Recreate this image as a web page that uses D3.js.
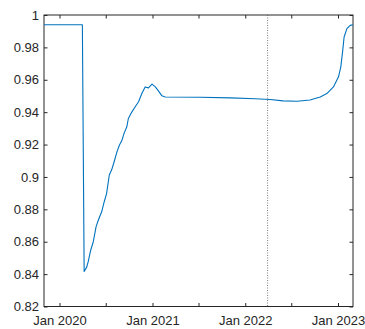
<!DOCTYPE html>
<html>
<head>
<meta charset="utf-8">
<script src="https://cdn.jsdelivr.net/npm/d3@7/dist/d3.min.js"></script>
<style>
  html, body { margin: 0; padding: 0; background: #ffffff; }
  svg { display: block; }
  text { font-family: "Liberation Sans", Arial, Helvetica, sans-serif; }
</style>
</head>
<body>
<svg id="chart" width="365" height="329"></svg>
<script>
// ---- data ----
const dates = [
  "2019-11-01", "2020-03-31", "2020-04-07", "2020-04-17", "2020-04-23", "2020-05-03",
  "2020-05-13", "2020-05-24", "2020-06-02", "2020-06-15", "2020-06-25", "2020-07-04",
  "2020-07-15", "2020-07-25", "2020-08-03", "2020-08-14", "2020-08-24", "2020-09-02",
  "2020-09-11", "2020-09-22", "2020-09-28", "2020-10-12", "2020-10-25", "2020-11-07",
  "2020-11-20", "2020-12-03", "2020-12-16", "2020-12-30", "2021-01-12", "2021-01-25",
  "2021-02-07", "2021-02-20", "2021-07-08", "2021-11-03", "2022-02-09", "2022-04-09",
  "2022-05-30", "2022-07-24", "2022-09-13", "2022-10-23", "2022-11-18", "2022-12-14",
  "2023-01-03", "2023-01-12", "2023-01-19", "2023-01-25", "2023-02-05", "2023-02-18",
  "2023-03-01"
];
const values = [
  0.994, 0.994, 0.8416, 0.8443, 0.8477, 0.8549,
  0.8600, 0.8693, 0.8734, 0.8785, 0.8847, 0.8895,
  0.9012, 0.9047, 0.9094, 0.9155, 0.9197, 0.9223,
  0.9269, 0.9310, 0.9361, 0.9402, 0.9433, 0.9464,
  0.9515, 0.9556, 0.9550, 0.9573, 0.9556, 0.9530,
  0.9501, 0.9494, 0.9492, 0.9488, 0.9483, 0.9478,
  0.9470, 0.9467, 0.9475, 0.9494, 0.9515, 0.9556,
  0.9618, 0.9680, 0.9772, 0.9864, 0.9916, 0.9936,
  0.9940
];
const markerDate = "2022-03-30";
const xDomain = ["2019-11-01", "2023-03-01"];
const yDomain = [0.82, 1];
const xTickDates = ["2020-01-01", "2020-07-01", "2021-01-01", "2021-07-01", "2022-01-01", "2022-07-01", "2023-01-01"];
const xTickLabels = ["Jan 2020", "", "Jan 2021", "", "Jan 2022", "", "Jan 2023"];
const yTickValues = [0.82, 0.84, 0.86, 0.88, 0.9, 0.92, 0.94, 0.96, 0.98, 1];
const yTickLabels = ["0.82", "0.84", "0.86", "0.88", "0.9", "0.92", "0.94", "0.96", "0.98", "1"];

// ---- layout ----
const margin = { left: 44, top: 15, right: 12, bottom: 22.5 };
const W = 365, H = 329;
const innerW = W - margin.left - margin.right;
const innerH = H - margin.top - margin.bottom;
const parse = d3.utcParse("%Y-%m-%d");

const x = d3.scaleUtc().domain(xDomain.map(parse)).range([0, innerW]);
const y = d3.scaleLinear().domain(yDomain).range([innerH, 0]);

const svg = d3.select("#chart");
const g = svg.append("g").attr("transform", `translate(${margin.left},${margin.top})`);

const axisColor = "#262626";
const tickLen = 3.5;
const xt = xTickDates.map(parse);

function styleAxis(sel, showText) {
  sel.select(".domain").remove();
  sel.selectAll(".tick line").attr("stroke", axisColor).attr("stroke-width", 1);
  sel.selectAll(".tick text")
    .attr("fill", "#262626")
    .style("font-size", "13px");
  if (!showText) sel.selectAll(".tick text").remove();
}

// bottom axis
const xAxis = d3.axisBottom(x).tickValues(xt)
  .tickFormat((d, i) => xTickLabels[i])
  .tickSizeInner(-tickLen).tickSizeOuter(0).tickPadding(9);
g.append("g").attr("transform", `translate(0,${innerH})`).call(xAxis).call(s => styleAxis(s, true));

// top axis (ticks only)
g.append("g").call(d3.axisTop(x).tickValues(xt).tickSizeInner(-tickLen).tickSizeOuter(0))
  .call(s => styleAxis(s, false));

// left axis
const yAxis = d3.axisLeft(y).tickValues(yTickValues)
  .tickFormat((d, i) => yTickLabels[i])
  .tickSizeInner(-tickLen).tickSizeOuter(0).tickPadding(5);
g.append("g").call(yAxis).call(s => styleAxis(s, true));

// right axis (ticks only)
g.append("g").attr("transform", `translate(${innerW},0)`)
  .call(d3.axisRight(y).tickValues(yTickValues).tickSizeInner(-tickLen).tickSizeOuter(0))
  .call(s => styleAxis(s, false));

// box
g.append("rect")
  .attr("x", 0).attr("y", 0).attr("width", innerW).attr("height", innerH)
  .attr("fill", "none").attr("stroke", axisColor).attr("stroke-width", 1);

// vertical dotted marker
const mx = x(parse(markerDate));
g.append("line")
  .attr("x1", mx).attr("x2", mx).attr("y1", 0).attr("y2", innerH)
  .attr("stroke", "#555555").attr("stroke-width", 0.8)
  .attr("stroke-dasharray", "1,1.5");

// series line
const pts = dates.map((d, i) => [parse(d), values[i]]);
const line = d3.line().x(d => x(d[0])).y(d => y(d[1]));
g.append("path")
  .datum(pts)
  .attr("d", line)
  .attr("fill", "none")
  .attr("stroke", "#0072BD")
  .attr("stroke-width", 1.1)
  .attr("stroke-linejoin", "round");
</script>
</body>
</html>
